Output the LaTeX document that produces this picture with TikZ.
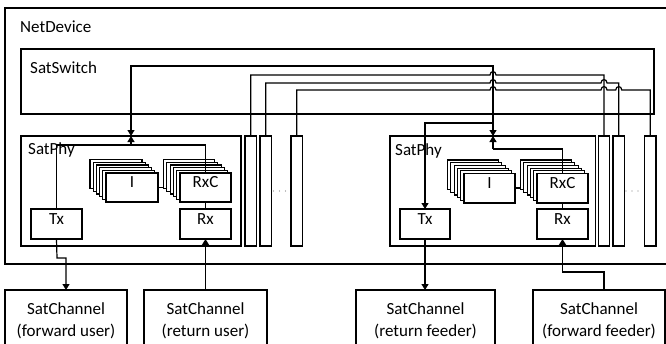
\documentclass[tikz,border=0pt]{standalone}
\usepackage{fontspec}
\setmainfont{Carlito}
\usetikzlibrary{arrows.meta,fit}
\begin{document}
\begin{tikzpicture}[x=1pt,y=-1pt,
  ln/.style={line width=1.2pt},
  box/.style={draw, line width=1.2pt, fill=white, inner sep=0pt, outer sep=0pt, font=\fontsize{17}{20}\selectfont},
  frame/.style={box, fill=none},
  lbl/.style={inner sep=0pt, anchor=base west, font=\fontsize{17}{20}\selectfont},
  two/.style={inner sep=0pt, align=center, font=\fontsize{17}{21.5}\selectfont},
  arr/.style={ln, -{Triangle[length=6pt,width=7pt]}},
  dbl/.style={ln, {Triangle[length=6pt,width=7pt]}-{Triangle[length=6pt,width=7pt]}},
  dotn/.style={fill=gray, draw=none, circle, inner sep=0pt, minimum size=1.4pt},
  layer/.style={ln, fill=white}]
\useasboundingbox (0,0) rectangle (666,343);
\clip (0,0) rectangle (666,343);

% containers
\node[frame, fit={(5,8) (720,264)}] (net) {};
\node[lbl] (netl) at (20,32.5) {NetDevice};
\node[frame, fit={(21,49) (654,114)}] (sw) {};
\node[lbl] (swl) at (30,73.3) {SatSwitch};

\node[frame, fit={(21,136) (241,246)}] (lphy) {};
\node[lbl] (lphyl) at (28,154.5) {SatPhy};
\node[frame, fit={(390,136) (595.5,246)}] (rphy) {};
\node[lbl] (rphyl) at (395,155) {SatPhy};

% channel boxes
\node[box, fit={(245,136) (256.5,246)}] (lc1) {};
\node[box, fit={(260,136) (271.5,246)}] (lc2) {};
\node[box, fit={(291,136) (302.5,246)}] (lc3) {};
\node[box, fit={(598.5,136) (609.5,246)}] (rc1) {};
\node[box, fit={(613,136) (624.5,246)}] (rc2) {};
\node[box, fit={(644.5,136) (656,246)}] (rc3) {};

\node[dotn] (ld1) at (273.5,191) {};
\node[dotn] (ld2) at (279.5,191) {};
\node[dotn] (ld3) at (285.5,191) {};
\node[dotn] (rd1) at (626,191) {};
\node[dotn] (rd2) at (632,191) {};
\node[dotn] (rd3) at (638,191) {};

% I -> RxC connectors (behind the stacks)
\coordinate (lia) at (158,187.5);
\coordinate (lib) at (180,187.5);
\coordinate (ria) at (515,188);
\coordinate (rib) at (537,188);
\draw[ln] (lia) -- (lib);
\draw[ln] (ria) -- (rib);

% stacked layers
\foreach \k in {5,4,3,2,1} {
  \draw[layer] ({106-3.2*\k},{173-2.7*\k}) rectangle ++(52,29);
  \draw[layer] ({180-3.3*\k},{173-2.7*\k}) rectangle ++(51,29);
  \draw[layer] ({464-3.3*\k},{173.5-2.7*\k}) rectangle ++(51,29.5);
  \draw[layer] ({537-3.3*\k},{173.5-2.7*\k}) rectangle ++(51,29.5);
}

% inner blocks
\node[box, fit={(106,173) (158,202)}] (li) {I};
\node[box, fit={(180,173) (231,202)}] (lrxc) {RxC};
\node[box, fit={(31,209) (82,239)}] (ltx) {Tx};
\node[box, fit={(180,209) (231,239)}] (lrx) {Rx};
\node[box, fit={(464,173.5) (515,203)}] (ri) {I};
\node[box, fit={(537,173.5) (588,203)}] (rrxc) {RxC};
\node[box, fit={(400,209) (450,239)}] (rtx) {Tx};
\node[box, fit={(537,209) (588,239)}] (rrx) {Rx};

\draw[ln] (lrxc.south) -- (lrx.north);
\draw[ln] (rrxc.south) -- (rrx.north);

% SatPhy <-> switch
\coordinate (y1) at (0,66);
\coordinate (y2) at (0,75);
\coordinate (y3) at (0,83);
\coordinate (y4) at (0,90);
\coordinate (lb) at (131,136);
\coordinate (lj) at (131,145);
\coordinate (rb) at (493,136);
\coordinate (rj) at (493,149);
\coordinate (rs) at (493,123);

\draw[dbl] (lb) -- (lb |- y1) -- (rb |- y1) -- (rb);
\draw[ln] (ltx.north) |- (lj) -| (lrxc.north);
\draw[arr] (lj) -- (lb);
\draw[ln] (rrxc.north) |- (rj);
\draw[arr] (rj) -- (rb);
\draw[arr] (rs) -| (rtx.north);

% channel lines with hops
\draw[ln] (lc1.north) -- (lc1.north |- y2) -- (490,75)
  .. controls (490,70.5) and (496,70.5) .. (496,75) -- (rc1.north |- y2) -- (rc1.north);
\draw[ln] (lc2.north) -- (lc2.north |- y3) -- (490,83)
  .. controls (490,78.5) and (496,78.5) .. (496,83) -- (601,83)
  .. controls (601,78.5) and (607,78.5) .. (607,83) -- (rc2.north |- y3) -- (rc2.north);
\draw[ln] (lc3.north) -- (lc3.north |- y4) -- (490,90)
  .. controls (490,85.5) and (496,85.5) .. (496,90) -- (601,90)
  .. controls (601,85.5) and (607,85.5) .. (607,90) -- (615.75,90)
  .. controls (615.75,85.5) and (621.75,85.5) .. (621.75,90) -- (rc3.north |- y4) -- (rc3.north);

% channels
\node[frame, fit={(5,290) (127,360)}] (fu) {};
\node[two] (fut) at (66,321) {SatChannel\\(forward user)};
\node[frame, fit={(144,290) (267,360)}] (ru) {};
\node[two] (rut) at (205.5,321) {SatChannel\\(return user)};
\node[frame, fit={(356,290) (495,360)}] (rf) {};
\node[two] (rft) at (425.5,321) {SatChannel\\(return feeder)};
\node[frame, fit={(533,290) (665,360)}] (ff) {};
\node[two] (fft) at (599,321) {SatChannel\\(forward feeder)};

\coordinate (lk) at (57,258);
\draw[arr] (ltx.south) -- (lk) -| (fu.north);
\draw[arr] (ru.north) -- (lrx.south);
\draw[arr] (rtx.south) -- (rtx.south |- rf.north);
\coordinate (ffs) at (604,290);
\coordinate (ffk) at (562.5,272);
\draw[arr] (ffs) |- (ffk) -- (rrx.south);
\end{tikzpicture}
\end{document}
